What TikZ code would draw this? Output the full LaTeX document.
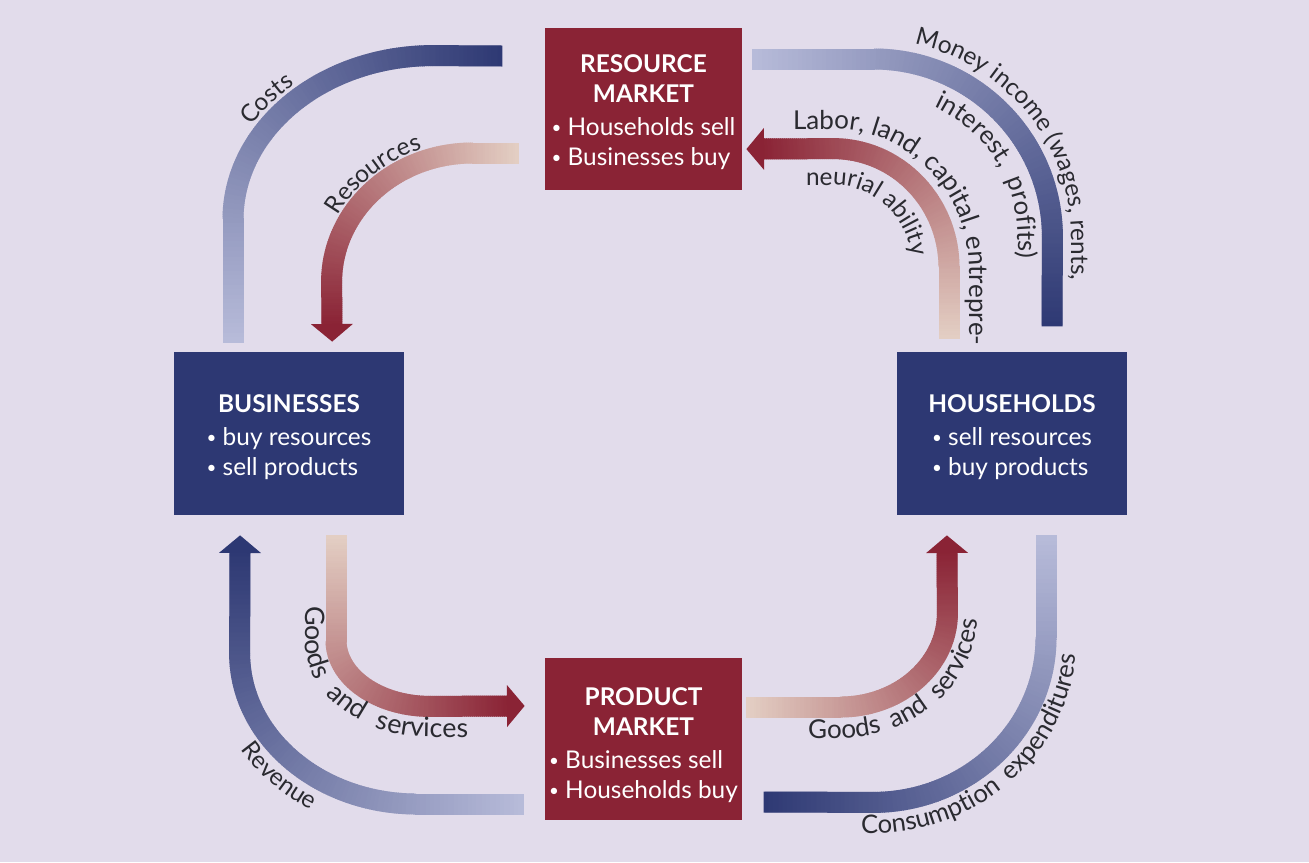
\documentclass[tikz,border=0pt]{standalone}
\usepackage{fontspec}
\setmainfont{Lato}
\usepackage{tikz}
\usetikzlibrary{decorations.markings,decorations.text}

\definecolor{backdrop}{HTML}{E2DCEB}
\definecolor{mktred}{HTML}{8A2335}
\definecolor{agentblue}{HTML}{2D3873}
\definecolor{paleblue}{HTML}{B7BBD9}
\definecolor{palesand}{HTML}{E3CEC3}
\definecolor{labelink}{HTML}{2A2A30}

\newcommand{\boxfont}{\fontsize{12.2}{15}\selectfont}
\newcommand{\flowfont}[2]{\fontsize{#1}{15}\selectfont\addfontfeatures{LetterSpace=#2}}
\newcommand{\dotitem}{\raisebox{1.2pt}{\fontsize{8.5}{9}\selectfont\textbullet}\ }

\tikzset{
    sector/.style={fill=#1, text=white, font=\boxfont, align=center, inner sep=0pt},
    market/.style={sector=mktred, minimum width=98.5pt, minimum height=81pt, text height=45pt, text depth=18.5pt},
    agent/.style={sector=agentblue, minimum width=115pt, minimum height=81.5pt, text height=30pt, text depth=18pt},
    flow/.style 2 args={
        decoration={markings,
            mark=between positions 0 and 1 step 1pt with {
                \pgfmathtruncatemacro\flowpct{100*(\pgfkeysvalueof{/pgf/decoration/mark info/distance from start}/\pgfdecoratedpathlength)}
                \fill[fill=#2!\flowpct!#1] (-0.7pt,-5.25pt) rectangle (0.7pt,5.25pt);
            },
            mark=at position -0.2pt with {\fill[#2] (-0.1pt,-10.5pt) -- (8.7pt,0pt) -- (-0.1pt,10.5pt) -- cycle;}
        },
        postaction={decorate}
    },
    flowlabel/.style n args={3}{decorate, decoration={text along path, text align=left, text color=labelink, text={|\flowfont{#1}{#2}|#3}}}
}

\begin{document}
\begin{tikzpicture}[x=0.5pt,y=-0.5pt]
    \useasboundingbox (0,0) rectangle (1309,862);
    \fill[backdrop] (0,0) rectangle (1309,862);

    \node[market] (rm) at (643.5,109) {\textbf{RESOURCE}\\\textbf{MARKET}\\[1.5pt]\begin{tabular}[t]{@{}l@{}}\dotitem Households sell\\\dotitem Businesses buy\end{tabular}};
    \node[market, text height=47pt, text depth=17.5pt] (pm) at (643.5,739) {\textbf{PRODUCT}\\\textbf{MARKET}\\[1.5pt]\begin{tabular}[t]{@{}l@{}}\dotitem Businesses sell\\\dotitem Households buy\end{tabular}};
    \node[agent] (bus) at (289,433.5) {\textbf{BUSINESSES}\\[1.5pt]\begin{tabular}[t]{@{}l@{}}\dotitem buy resources\\\dotitem sell products\end{tabular}};
    \node[agent] (hh) at (1012,433.5) {\textbf{HOUSEHOLDS}\\[1.5pt]\begin{tabular}[t]{@{}l@{}}\dotitem sell resources\\\dotitem buy products\end{tabular}};

    \coordinate (costs-s) at ([xshift=-28pt,yshift=5pt]bus.north);
    \coordinate (costs-e) at ([xshift=-21.5pt,yshift=26.5pt]rm.west);
    \coordinate (res-s) at ([xshift=-13.5pt,yshift=-22pt]rm.west);
    \coordinate (res-e) at ([xshift=21.5pt,yshift=13.5pt]bus.north);
    \coordinate (inc-s) at ([xshift=5.5pt,yshift=25pt]rm.east);
    \coordinate (inc-e) at ([xshift=20pt,yshift=12.5pt]hh.north);
    \coordinate (lab-s) at ([xshift=-31.5pt,yshift=7pt]hh.north);
    \coordinate (lab-e) at ([xshift=10.5pt,yshift=-20pt]rm.east);
    \coordinate (rev-s) at ([xshift=-11pt,yshift=-32.5pt]pm.west);
    \coordinate (rev-e) at ([xshift=-24.5pt,yshift=-18.5pt]bus.south);
    \coordinate (gdl-s) at ([xshift=23.5pt,yshift=-10.5pt]bus.south);
    \coordinate (gdl-e) at ([xshift=-18.5pt,yshift=16.5pt]pm.west);
    \coordinate (gdr-s) at ([xshift=2.5pt,yshift=16pt]pm.east);
    \coordinate (gdr-e) at ([xshift=-32.5pt,yshift=-18.5pt]hh.south);
    \coordinate (con-s) at ([xshift=17pt,yshift=-10.5pt]hh.south);
    \coordinate (con-e) at ([xshift=10.5pt,yshift=-31.5pt]pm.east);

    \path[flow={paleblue}{agentblue}] (costs-s) -- ++(0,-122) arc[start angle=180, end angle=270, x radius=200, y radius=164] -- (costs-e);
    \path[flow={palesand}{mktred}] (res-s) -- ++(-45,0) arc[start angle=270, end angle=180, x radius=141, y radius=129] -- (res-e);
    \path[flow={paleblue}{agentblue}] (inc-s) -- ++(120,0) arc[start angle=270, end angle=360, x radius=179, y radius=178] -- (inc-e);
    \path[flow={palesand}{mktred}] (lab-s) -- ++(0,-70) arc[start angle=0, end angle=-90, x radius=116, y radius=119] -- (lab-e);
    \path[flow={paleblue}{agentblue}] (rev-s) -- ++(-106,0) arc[start angle=90, end angle=180, x radius=177, y radius=151] -- (rev-e);
    \path[flow={palesand}{mktred}] (gdl-s) -- ++(0,104) arc[start angle=180, end angle=90, x radius=94, y radius=66] -- (gdl-e);
    \path[flow={palesand}{mktred}] (gdr-s) -- ++(93,0) arc[start angle=90, end angle=0, x radius=107, y radius=94] -- (gdr-e);
    \path[flow={paleblue}{agentblue}] (con-s) -- ++(0,101) arc[start angle=0, end angle=90, x radius=173, y radius=165] -- (con-e);

    \path[flowlabel={12.2}{0}{Costs}] ([shift={(212:214 and 178)}]433,220) arc[start angle=212, end angle=270, x radius=214, y radius=178] -- ++(100,0);
    \path[flowlabel={12.2}{0}{Resources}] ([shift={(208:153 and 141)}]473,282) arc[start angle=208, end angle=270, x radius=153, y radius=141] -- ++(60,0);
    \path[flowlabel={12.2}{0}{Money income (wages, rents,}] ([shift={(282:198 and 197)}]873,237) arc[start angle=282, end angle=360, x radius=198, y radius=197] -- ++(0,120);
    \path[flowlabel={12.8}{25}{interest, profits)}] ([shift={(295:145 and 144)}]873,237) arc[start angle=295, end angle=360, x radius=145, y radius=144] -- ++(0,100);
    \path[flowlabel={13}{0}{Labor, land, capital, entrepre-}] (793,129) -- (833,129) arc[start angle=270, end angle=360, x radius=136, y radius=139] -- ++(0,160);
    \path[flowlabel={12.2}{0}{neurial ability}] (806,185) -- (833,185) arc[start angle=270, end angle=360, x radius=80, y radius=83] -- ++(0,60);
    \path[flowlabel={13.4}{36}{Goods and services}] (305,606) -- (305,640) arc[start angle=180, end angle=90, x radius=125, y radius=97] -- ++(100,0);
    \path[flowlabel={12.2}{0}{Revenue}] ([shift={(148:208 and 182)}]417,653) arc[start angle=148, end angle=90, x radius=208, y radius=182] -- ++(80,0);
    \path[flowlabel={13}{21}{Goods and services}] (808,738) -- (840,738) arc[start angle=90, end angle=0, x radius=138, y radius=125] -- ++(0,-60);
    \path[flowlabel={12.8}{18}{Consumption expenditures}] (861,833) -- (873,833) arc[start angle=90, end angle=0, x radius=204, y radius=196] -- ++(0,-60);
\end{tikzpicture}
\end{document}
